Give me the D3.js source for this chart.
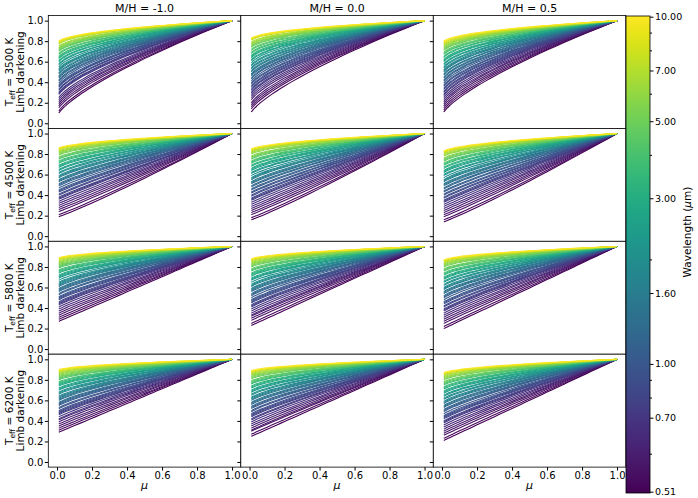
<!DOCTYPE html>
<html lang="en">
<head>
<meta charset="UTF-8">
<title>Limb darkening profiles</title>
<script src="https://cdnjs.cloudflare.com/ajax/libs/d3/7.8.5/d3.min.js"></script>
<style>
  body { margin: 0; background: #fff; }
  svg { display: block; font-family: "DejaVu Sans", sans-serif; }
</style>
</head>
<body>
<svg id="chart" width="698" height="498"></svg>
<script>
// one curve per wavelength (micron) in every panel
const wavelengths = [
  0.51, 0.53, 0.55, 0.57, 0.59, 0.61, 0.64, 0.67,
  0.70, 0.73, 0.76, 0.80, 0.84, 0.88, 0.93, 0.98,
  1.04, 1.10, 1.17, 1.25, 1.33, 1.42, 1.52, 1.62,
  1.74, 1.87, 2.00, 2.15, 2.31, 2.48, 2.66, 2.85,
  3.05, 3.30, 3.55, 3.85, 4.15, 4.45, 4.80, 5.15,
  5.50, 5.90, 6.30, 6.70, 7.30, 8.00, 8.90, 10.00
];
const metallicities = ["-1.0", "0.0", "0.5"];
const temperatures = [3500, 4500, 5800, 6200];

// mu sampling of every profile
const mu = [0.01, 0.015, 0.02, 0.03, 0.04, 0.05, 0.07, 0.1, 0.13, 0.16, 0.2, 0.25, 0.3,
  0.35, 0.4, 0.45, 0.5, 0.55, 0.6, 0.65, 0.7, 0.75, 0.8, 0.85, 0.9, 0.95, 1.0];

// intensity at the limb (mu = 0.01), per wavelength; one list per M/H
const limb3500 = [
  [.10,.12,.15,.17,.19,.21,.23,.25,.28,.29,.30,.32,.33,.35,.36,.37,
   .39,.41,.42,.44,.45,.46,.48,.49,.51,.52,.53,.55,.57,.58,.60,.61,
   .63,.64,.65,.67,.68,.70,.71,.72,.73,.74,.75,.77,.78,.79,.79,.80],
  [.11,.14,.16,.18,.20,.23,.25,.27,.29,.30,.32,.33,.35,.36,.38,.39,
   .41,.43,.44,.46,.47,.48,.50,.51,.53,.54,.56,.57,.59,.61,.62,.64,
   .65,.66,.68,.69,.71,.72,.74,.75,.76,.77,.78,.79,.81,.82,.82,.83],
  [.11,.13,.15,.17,.19,.21,.23,.25,.27,.28,.30,.31,.33,.34,.36,.37,
   .39,.41,.42,.44,.45,.47,.48,.50,.51,.52,.54,.55,.57,.58,.60,.61,
   .62,.64,.65,.67,.68,.69,.71,.72,.73,.74,.75,.76,.77,.78,.79,.80]
];
const limb4500 = [
  [.19,.21,.24,.26,.28,.30,.32,.34,.36,.37,.38,.40,.41,.43,.44,.45,
   .47,.49,.50,.51,.53,.54,.55,.57,.58,.59,.61,.62,.64,.65,.67,.68,
   .69,.71,.72,.73,.75,.76,.77,.79,.80,.81,.82,.83,.84,.85,.85,.86],
  [.16,.18,.21,.23,.25,.27,.29,.31,.33,.35,.36,.37,.39,.40,.42,.43,
   .45,.46,.48,.49,.51,.52,.53,.55,.56,.57,.59,.61,.62,.64,.65,.66,
   .68,.69,.71,.72,.73,.75,.76,.77,.78,.80,.81,.82,.83,.84,.84,.85],
  [.14,.16,.19,.21,.23,.25,.27,.29,.31,.33,.34,.35,.37,.38,.40,.41,
   .43,.44,.46,.47,.49,.50,.51,.53,.54,.55,.57,.59,.60,.62,.63,.64,
   .66,.67,.69,.70,.71,.73,.74,.75,.76,.78,.79,.80,.81,.82,.82,.83]
];
const limb5800 = [
  [.27,.29,.31,.33,.35,.37,.39,.41,.43,.44,.45,.46,.48,.49,.50,.51,
   .53,.54,.56,.57,.58,.59,.61,.62,.63,.64,.65,.67,.69,.70,.71,.72,
   .74,.75,.76,.77,.79,.80,.81,.82,.83,.84,.85,.86,.87,.88,.88,.89],
  [.23,.25,.28,.30,.32,.33,.35,.37,.39,.41,.42,.43,.45,.46,.47,.48,
   .50,.52,.53,.54,.56,.57,.58,.59,.61,.62,.63,.65,.67,.68,.69,.71,
   .72,.73,.74,.76,.77,.78,.80,.81,.82,.83,.84,.85,.86,.87,.87,.88],
  [.20,.22,.25,.27,.29,.31,.33,.35,.37,.38,.39,.41,.42,.44,.45,.46,
   .48,.50,.51,.52,.54,.55,.56,.58,.59,.60,.62,.63,.65,.66,.68,.69,
   .70,.72,.73,.74,.76,.77,.78,.80,.81,.82,.83,.84,.85,.86,.86,.87]
];
const limb6200 = [
  [.29,.31,.33,.35,.37,.39,.41,.42,.44,.46,.47,.48,.49,.50,.52,.53,
   .55,.56,.57,.58,.60,.61,.62,.63,.64,.66,.67,.68,.70,.71,.72,.74,
   .75,.76,.77,.78,.80,.81,.82,.83,.84,.85,.86,.87,.88,.89,.89,.90],
  [.25,.27,.30,.31,.33,.35,.37,.39,.41,.42,.44,.45,.46,.47,.49,.50,
   .52,.53,.54,.56,.57,.58,.60,.61,.62,.63,.65,.66,.68,.69,.70,.72,
   .73,.74,.76,.77,.78,.79,.81,.82,.83,.84,.85,.86,.87,.88,.88,.89],
  [.21,.23,.26,.28,.30,.32,.34,.36,.38,.39,.40,.42,.43,.44,.45,.47,
   .49,.50,.51,.53,.54,.55,.57,.58,.59,.61,.62,.64,.65,.67,.68,.69,
   .71,.72,.73,.75,.76,.77,.78,.80,.81,.82,.83,.84,.85,.86,.86,.87]
];

// power-law exponent of each profile, per wavelength
const alpha3500 = [.73,.72,.71,.70,.69,.69,.68,.67,.66,.65,.65,.64,.64,.63,.63,.62,
  .61,.61,.60,.60,.59,.58,.58,.57,.57,.56,.56,.55,.54,.54,.53,.53,
  .52,.51,.51,.50,.50,.49,.49,.48,.48,.47,.47,.46,.46,.46,.45,.45];
const alpha4500 = [1.10,1.08,1.06,1.04,1.02,1.00,.99,.97,.95,.94,.93,.91,.90,.89,.88,.87,
  .85,.84,.82,.81,.80,.79,.78,.76,.75,.74,.73,.71,.70,.69,.67,.66,
  .65,.64,.63,.61,.60,.59,.58,.57,.56,.55,.54,.53,.52,.51,.51,.50];
const alpha5800 = [1.00,.98,.97,.95,.94,.92,.91,.89,.88,.87,.86,.85,.84,.83,.82,.81,
  .79,.78,.77,.76,.75,.74,.73,.72,.71,.70,.69,.68,.67,.66,.65,.64,
  .63,.62,.61,.60,.59,.58,.57,.56,.55,.54,.53,.53,.52,.51,.51,.50];
const alpha6200 = [1.00,.98,.97,.95,.94,.92,.91,.89,.88,.87,.86,.85,.84,.83,.82,.81,
  .79,.78,.77,.76,.75,.74,.73,.72,.71,.70,.69,.68,.67,.66,.65,.64,
  .63,.62,.61,.60,.59,.58,.57,.56,.55,.54,.53,.53,.52,.51,.51,.50];

const axisTicks = [0, 0.2, 0.4, 0.6, 0.8, 1.0];
const cbTicks = [0.51, 0.70, 1.00, 1.60, 3.00, 5.00, 7.00, 10.00];
const cbMinor = [0.6, 0.8, 0.9, 2, 4, 6, 8, 9];

const rows = [
  { teff: temperatures[0], limb: limb3500, alpha: alpha3500 },
  { teff: temperatures[1], limb: limb4500, alpha: alpha4500 },
  { teff: temperatures[2], limb: limb5800, alpha: alpha5800 },
  { teff: temperatures[3], limb: limb6200, alpha: alpha6200 }
];

// layout
const gridLeft = 48.3, gridTop = 15.5, pw = 192.5, ph = 112.9;
const barX = 626, barW = 24, barTop = 16, barBottom = 493;

const svg = d3.select("#chart");

const x = d3.scaleLinear().domain([-0.05, 1.05]).range([0, pw]);
const y = d3.scaleLinear().domain([-0.05, 1.05]).range([ph, 0]);

// colorbar position scale (log, bottom segment stretched as in the figure)
const cb = d3.scaleLog().domain([0.51, 0.70, 10]).range([491.7, 417.7, 16.7]);
const color = w => d3.interpolateViridis((barBottom - cb(w)) / (barBottom - barTop));

const line = d3.line()
    .x(d => x(d[0]))
    .y(d => y(d[1]))
    .curve(d3.curveMonotoneX);

const fmt1 = d3.format(".1f");

rows.forEach((row, r) => {
    row.limb.forEach((limb, c) => {
        const g = svg.append("g")
            .attr("transform", `translate(${gridLeft + c * pw},${gridTop + r * ph})`);

        g.append("rect")
            .attr("width", pw)
            .attr("height", ph)
            .attr("fill", "#fff");

        // I(mu) = 1 - k (1 - mu^a), with k fixed by the limb value
        const curves = wavelengths.map((w, i) => {
            const a = row.alpha[i];
            const k = (1 - limb[i]) / (1 - Math.pow(mu[0], a));
            return { w, pts: mu.map(m => [m, 1 - k * (1 - Math.pow(m, a))]) };
        });

        g.append("g")
            .selectAll("path")
            .data(curves)
            .join("path")
            .attr("d", d => line(d.pts))
            .attr("fill", "none")
            .attr("stroke", d => color(d.w))
            .attr("stroke-width", 1.1);

        g.append("rect")
            .attr("width", pw)
            .attr("height", ph)
            .attr("fill", "none")
            .attr("stroke", "#000")
            .attr("stroke-width", 0.8);

        const ya = g.append("g")
            .call(d3.axisLeft(y).tickValues(axisTicks).tickSize(3.5).tickPadding(1.5)
                .tickFormat(c === 0 ? fmt1 : ""));
        ya.select(".domain").remove();
        ya.selectAll("text").attr("font-size", 10).attr("font-family", "DejaVu Sans");

        if (r === rows.length - 1) {
            const xa = g.append("g")
                .attr("transform", `translate(0,${ph})`)
                .call(d3.axisBottom(x).tickValues(axisTicks).tickSize(3.5).tickPadding(1.5)
                    .tickFormat(fmt1));
            xa.select(".domain").remove();
            xa.selectAll("text").attr("font-size", 10).attr("font-family", "DejaVu Sans");

            g.append("text")
                .attr("x", pw / 2)
                .attr("y", 489 - gridTop - r * ph)
                .attr("text-anchor", "middle")
                .attr("font-size", 11)
                .attr("font-style", "italic")
                .text("μ");
        }

        if (r === 0) {
            g.append("text")
                .attr("x", pw / 2)
                .attr("y", 11.5 - gridTop)
                .attr("text-anchor", "middle")
                .attr("font-size", 11)
                .text(`M/H = ${metallicities[c]}`);
        }
    });

    // row label
    const cy = gridTop + r * ph + ph / 2;
    const t1 = svg.append("text")
        .attr("transform", `translate(12.5,${cy}) rotate(-90)`)
        .attr("text-anchor", "middle")
        .attr("font-size", 10.5);
    t1.append("tspan").text("T");
    t1.append("tspan").attr("font-size", 7.5).attr("dy", 2.5).text("eff");
    t1.append("tspan").attr("dy", -2.5).text(` = ${row.teff} K`);

    svg.append("text")
        .attr("transform", `translate(23.5,${cy}) rotate(-90)`)
        .attr("text-anchor", "middle")
        .attr("font-size", 10.5)
        .text("Limb darkening");
});

// colorbar
const grad = svg.append("defs").append("linearGradient")
    .attr("id", "viridis")
    .attr("x1", 0).attr("y1", 1).attr("x2", 0).attr("y2", 0);
d3.range(0, 1.0001, 0.02).forEach(t => {
    grad.append("stop")
        .attr("offset", t)
        .attr("stop-color", d3.interpolateViridis(t));
});

svg.append("rect")
    .attr("x", barX)
    .attr("y", barTop)
    .attr("width", barW)
    .attr("height", barBottom - barTop)
    .attr("fill", "url(#viridis)")
    .attr("stroke", "#000")
    .attr("stroke-width", 0.8);

const cbAxis = svg.append("g")
    .attr("transform", `translate(${barX + barW},0)`)
    .call(d3.axisRight(cb).tickValues(cbTicks).tickSize(3.5).tickPadding(1.5)
        .tickFormat(d3.format(".2f")));
cbAxis.select(".domain").remove();
cbAxis.selectAll("text").attr("font-size", 9.5).attr("font-family", "DejaVu Sans");

const cbMinorAxis = svg.append("g")
    .attr("transform", `translate(${barX + barW},0)`)
    .call(d3.axisRight(cb).tickValues(cbMinor).tickSize(2).tickFormat(""));
cbMinorAxis.select(".domain").remove();

const cbLabel = svg.append("text")
    .attr("transform", `translate(691,232) rotate(-90)`)
    .attr("text-anchor", "middle")
    .attr("font-size", 10.5);
cbLabel.append("tspan").text("Wavelength (");
cbLabel.append("tspan").attr("font-style", "italic").text("μ");
cbLabel.append("tspan").text("m)");
</script>
</body>
</html>
